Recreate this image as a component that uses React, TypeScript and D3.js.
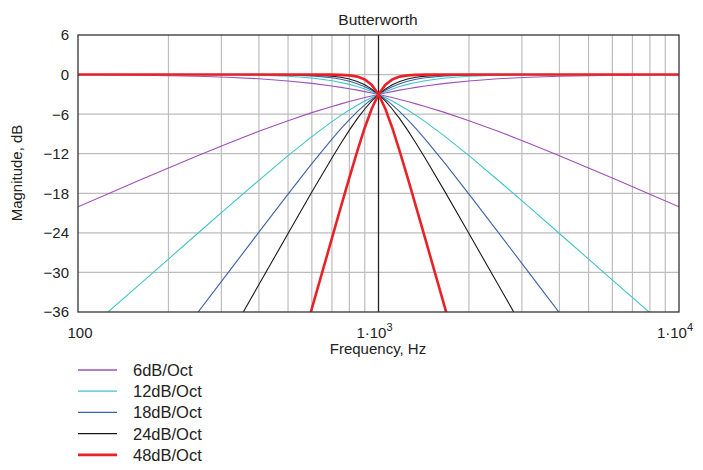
import React from "react";
import * as d3 from "d3";

// Frequencies (Hz) at which the curves were read
const FREQ = [100, 125, 160, 200, 250, 315, 400, 500, 600, 700, 750, 800, 850, 900, 950, 1000,
  1053, 1111, 1176, 1250, 1333, 1429, 1667, 2000, 2500, 3175, 4000, 5000, 6250, 8000, 10000];

// Low-pass responses, dB
const LP6 = [-0.04, -0.07, -0.11, -0.17, -0.26, -0.41, -0.64, -0.97, -1.34, -1.73, -1.94, -2.15, -2.36, -2.58, -2.79, -3.01,
  -3.24, -3.49, -3.77, -4.09, -4.44, -4.83, -5.77, -6.99, -8.60, -10.44, -12.30, -14.15, -16.03, -18.13, -20.04];
const LP12 = [0, 0, 0, -0.01, -0.02, -0.04, -0.11, -0.26, -0.53, -0.93, -1.19, -1.49, -1.82, -2.19, -2.59, -3.01,
  -3.48, -4.02, -4.65, -5.37, -6.19, -7.13, -9.40, -12.30, -16.03, -20.11, -24.10, -27.97, -31.84, -36.12, -40.0];
const LP18 = [0, 0, 0, 0, 0, 0, -0.02, -0.07, -0.20, -0.48, -0.71, -1.01, -1.39, -1.85, -2.39, -3.01,
  -3.73, -4.60, -5.62, -6.83, -8.21, -9.78, -13.51, -18.13, -23.89, -30.11, -36.12, -41.94, -47.75, -54.19, -60.0];
const LP24 = [0, 0, 0, 0, 0, 0, 0, -0.02, -0.07, -0.24, -0.41, -0.67, -1.05, -1.55, -2.21, -3.01,
  -3.99, -5.22, -6.69, -8.43, -10.41, -12.64, -17.82, -24.10, -31.84, -40.14, -48.17, -55.92, -63.67, -72.25, -80.0];
const LP48 = [0, 0, 0, 0, 0, 0, 0, 0, 0, -0.01, -0.04, -0.12, -0.31, -0.74, -1.58, -3.01,
  -5.15, -8.06, -11.60, -15.63, -20.03, -24.80, -35.50, -48.16, -63.67, -80.27, -96.33, -111.84, -127.35, -144.49, -160.0];

// High-pass responses, dB
const HP6 = [-20.04, -18.13, -16.03, -14.15, -12.30, -10.44, -8.60, -6.99, -5.77, -4.83, -4.44, -4.09, -3.77, -3.49, -3.24, -3.01,
  -2.79, -2.58, -2.36, -2.15, -1.94, -1.73, -1.34, -0.97, -0.64, -0.41, -0.26, -0.17, -0.11, -0.07, -0.04];
const HP12 = [-40.0, -36.12, -31.84, -27.97, -24.10, -20.11, -16.03, -12.30, -9.40, -7.13, -6.19, -5.37, -4.65, -4.02, -3.48, -3.01,
  -2.59, -2.19, -1.82, -1.49, -1.19, -0.93, -0.53, -0.26, -0.11, -0.04, -0.02, -0.01, 0, 0, 0];
const HP18 = [-60.0, -54.19, -47.75, -41.94, -36.12, -30.11, -23.89, -18.13, -13.51, -9.78, -8.21, -6.83, -5.62, -4.60, -3.73, -3.01,
  -2.39, -1.85, -1.39, -1.01, -0.71, -0.48, -0.20, -0.07, -0.02, 0, 0, 0, 0, 0, 0];
const HP24 = [-80.0, -72.25, -63.67, -55.92, -48.17, -40.14, -31.84, -24.10, -17.82, -12.64, -10.41, -8.43, -6.69, -5.22, -3.99, -3.01,
  -2.21, -1.55, -1.05, -0.67, -0.41, -0.24, -0.07, -0.02, 0, 0, 0, 0, 0, 0, 0];
const HP48 = [-160.0, -144.49, -127.35, -111.84, -96.33, -80.27, -63.67, -48.16, -35.50, -24.80, -20.03, -15.63, -11.60, -8.06, -5.15, -3.01,
  -1.58, -0.74, -0.31, -0.12, -0.04, -0.01, 0, 0, 0, 0, 0, 0, 0, 0, 0];

const SERIES_NAMES = ["6dB/Oct", "12dB/Oct", "18dB/Oct", "24dB/Oct", "48dB/Oct"];
const SERIES_LP = [LP6, LP12, LP18, LP24, LP48];
const SERIES_HP = [HP6, HP12, HP18, HP24, HP48];
const COLORS = ["#a050b8", "#40c4c8", "#3c62a4", "#1a1a1a", "#e82228"];
const WIDTHS = [1.1, 1.1, 1.1, 1.1, 2.6];

const Y_TICKS = [6, 0, -6, -12, -18, -24, -30, -36];
const X_MINOR = [200, 300, 400, 500, 600, 700, 800, 900, 2000, 3000, 4000, 5000, 6000, 7000, 8000, 9000];
const X_LABELS = [
  { v: 100, base: "100", exp: "" },
  { v: 1000, base: "1\u00B710", exp: "3" },
  { v: 10000, base: "1\u00B710", exp: "4" },
];

const W = 703, H = 470;
const L = 78, R = 679, T = 35, B = 312;
const FONT = "Arial, 'Liberation Sans', sans-serif";

export default function App() {
  const x = d3.scaleLog().domain([100, 10000]).range([L, R]);
  const y = d3.scaleLinear().domain([-36, 6]).range([B, T]);
  const line = d3.line<number>().x((_, i) => x(FREQ[i])).y((d) => y(d));
  const fmt = (v: number) => (v < 0 ? "\u2212" + Math.abs(v) : String(v));

  return (
    <svg width={W} height={H} style={{ position: "absolute", left: 0, top: 0, background: "#fff" }} fontFamily={FONT}>
      <defs>
        <clipPath id="plot">
          <rect x={L} y={T} width={R - L} height={B - T} />
        </clipPath>
      </defs>
      <text x={378} y={25} fontSize={15.5} textAnchor="middle" fill="#222">Butterworth</text>
      {/* grid */}
      {Y_TICKS.filter((t) => t !== 6 && t !== -36).map((t) => (
        <line key={"h" + t} x1={L} x2={R} y1={y(t)} y2={y(t)} stroke="#bdbdbd" strokeWidth={1.2} />
      ))}
      {X_MINOR.map((f) => (
        <line key={"v" + f} x1={x(f)} x2={x(f)} y1={T} y2={B} stroke="#bdbdbd" strokeWidth={1.2} />
      ))}
      <line x1={x(1000)} x2={x(1000)} y1={T} y2={B} stroke="#222" strokeWidth={1.3} />
      {/* curves */}
      <g clipPath="url(#plot)" fill="none">
        {SERIES_LP.map((s, k) => (
          <g key={"s" + k}>
            <path d={line(s) || ""} stroke={COLORS[k]} strokeWidth={WIDTHS[k]} />
            <path d={line(SERIES_HP[k]) || ""} stroke={COLORS[k]} strokeWidth={WIDTHS[k]} />
          </g>
        ))}
      </g>
      <rect x={L} y={T} width={R - L} height={B - T} fill="none" stroke="#333" strokeWidth={1.3} />
      {/* y tick labels */}
      {Y_TICKS.map((t) => (
        <text key={"yl" + t} x={69} y={y(t)} dy="0.36em" fontSize={15} textAnchor="end" fill="#222">{fmt(t)}</text>
      ))}
      {/* x tick labels */}
      {X_LABELS.map((d) => (
        <text key={"xl" + d.v} x={x(d.v) + (d.exp ? -4 : 2)} y={338} fontSize={15} textAnchor="middle" fill="#222">
          {d.base}
          {d.exp ? <tspan dy={-7} fontSize={11}>{d.exp}</tspan> : null}
        </text>
      ))}
      <text x={378} y={354} fontSize={15} textAnchor="middle" fill="#222">Frequency, Hz</text>
      <text transform={`translate(22,173) rotate(-90)`} fontSize={15} textAnchor="middle" fill="#222">Magnitude, dB</text>
      {/* legend */}
      {SERIES_NAMES.map((n, k) => (
        <g key={"lg" + k}>
          <line x1={78} x2={117} y1={370 + k * 21.2} y2={370 + k * 21.2} stroke={COLORS[k]} strokeWidth={k === 4 ? 2.8 : 1.3} />
          <text x={133} y={370 + k * 21.2} dy="0.36em" fontSize={16.5} fill="#222">{n}</text>
        </g>
      ))}
    </svg>
  );
}
